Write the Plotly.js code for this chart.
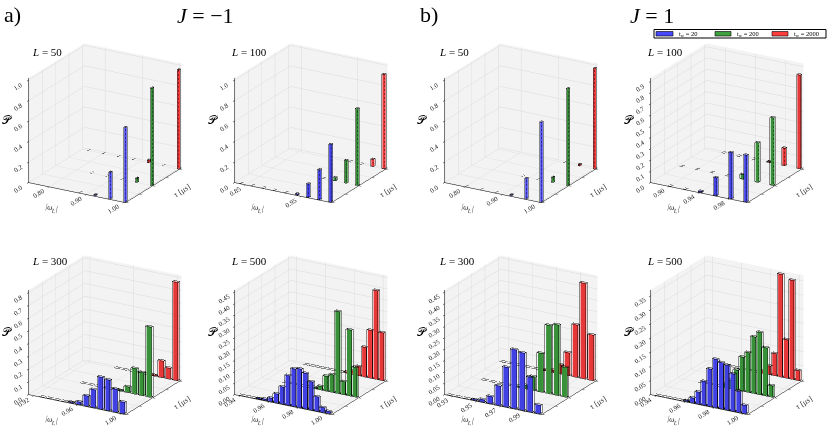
<!DOCTYPE html>
<html><head><meta charset="utf-8">
<script src="https://cdn.plot.ly/plotly-3.0.1.min.js"></script>
<style>html,body{margin:0;padding:0;background:#fff;}#chart{width:830px;height:439px;}</style>
</head><body><div id="chart"></div>
<script>
// ===== data =====
const seriesLabels = ['t<sub>w</sub> = 20', 't<sub>w</sub> = 200', 't<sub>w</sub> = 2000'];
const tauRows = [0, 1, 2];

// J = -1, L = 50
const omega_Jm1_L50 = [0.76, 0.80, 0.84, 0.88, 0.92, 0.96, 1.00];
const P_Jm1_L50_t20   = [0, 0, 0, 0.003, 0.01, 0.26, 0.727];
const P_Jm1_L50_t200  = [0, 0, 0.002, 0.003, 0.004, 0.04, 0.95];
const P_Jm1_L50_t2000 = [0.002, 0.002, 0.002, 0.003, 0.025, 0.003, 0.966];

// J = -1, L = 100
const omega_Jm1_L100 = [0.84, 0.86, 0.88, 0.90, 0.92, 0.94, 0.96, 0.98, 1.00];
const P_Jm1_L100_t20   = [0.002, 0.002, 0.002, 0.003, 0.003, 0.01, 0.13, 0.29, 0.56];
const P_Jm1_L100_t200  = [0, 0, 0, 0, 0, 0.003, 0.03, 0.22, 0.747];
const P_Jm1_L100_t2000 = [0, 0, 0, 0, 0, 0.003, 0.004, 0.07, 0.92];

// J = 1, L = 50
const omega_J1_L50 = [0.76, 0.80, 0.84, 0.88, 0.92, 0.96, 1.00];
const P_J1_L50_t20   = [0, 0.002, 0.003, 0.003, 0.01, 0.20, 0.78];
const P_J1_L50_t200  = [0, 0, 0, 0.002, 0.003, 0.05, 0.945];
const P_J1_L50_t2000 = [0, 0, 0, 0, 0.003, 0.015, 0.98];

// J = 1, L = 100
const omega_J1_L100 = [0.88, 0.90, 0.92, 0.94, 0.96, 0.98, 1.00];
const P_J1_L100_t20   = [0, 0.002, 0.003, 0.01, 0.16, 0.41, 0.415];
const P_J1_L100_t200  = [0.002, 0.002, 0.003, 0.003, 0.04, 0.35, 0.60];
const P_J1_L100_t2000 = [0, 0.002, 0.002, 0.003, 0.005, 0.155, 0.833];

// J = -1, L = 300
const omega_Jm1_L300 = [0.9200, 0.9267, 0.9333, 0.9400, 0.9467, 0.9533, 0.9600, 0.9667, 0.9733, 0.9800, 0.9867, 0.9933, 1.0000];
const P_Jm1_L300_t20   = [0, 0.002, 0.002, 0.002, 0.002, 0.005, 0.02, 0.08, 0.14, 0.25, 0.24, 0.18, 0.09];
const P_Jm1_L300_t200  = [0, 0, 0, 0.002, 0.002, 0.002, 0.002, 0.003, 0.005, 0.045, 0.20, 0.18, 0.55];
const P_Jm1_L300_t2000 = [0, 0, 0, 0, 0.002, 0.002, 0.002, 0.002, 0.003, 0.005, 0.13, 0.085, 0.77];

// J = -1, L = 500
const omega_Jm1_L500 = [0.940, 0.944, 0.948, 0.952, 0.956, 0.960, 0.964, 0.968, 0.972, 0.976, 0.980, 0.984, 0.988, 0.992, 0.996, 1.000];
const P_Jm1_L500_t20   = [0.001, 0.001, 0.001, 0.002, 0.005, 0.015, 0.039, 0.075, 0.13, 0.165, 0.17, 0.156, 0.124, 0.063, 0.021, 0.009];
const P_Jm1_L500_t200  = [0, 0, 0, 0.001, 0.001, 0.001, 0.001, 0.001, 0.005, 0.015, 0.065, 0.077, 0.36, 0.057, 0.29, 0.13];
const P_Jm1_L500_t2000 = [0, 0, 0.001, 0.001, 0.001, 0.001, 0.001, 0.001, 0.001, 0.005, 0.015, 0.04, 0.13, 0.21, 0.39, 0.21];

// J = 1, L = 300
const omega_J1_L300 = [0.9267, 0.9333, 0.9400, 0.9467, 0.9533, 0.9600, 0.9667, 0.9733, 0.9800, 0.9867, 0.9933, 1.0000];
const P_J1_L300_t20   = [0.001, 0.001, 0.001, 0.002, 0.01, 0.031, 0.085, 0.174, 0.259, 0.252, 0.152, 0.037];
const P_J1_L300_t200  = [0, 0.001, 0.001, 0.001, 0.001, 0.005, 0.015, 0.06, 0.17, 0.30, 0.31, 0.13];
const P_J1_L300_t2000 = [0.001, 0.001, 0.001, 0.001, 0.001, 0.002, 0.01, 0.04, 0.10, 0.23, 0.42, 0.20];

// J = 1, L = 500
const omega_J1_L500 = [0.940, 0.944, 0.948, 0.952, 0.956, 0.960, 0.964, 0.968, 0.972, 0.976, 0.980, 0.984, 0.988, 0.992, 0.996, 1.000];
const P_J1_L500_t20   = [0.001, 0.001, 0.001, 0.001, 0.001, 0.003, 0.017, 0.042, 0.084, 0.132, 0.171, 0.163, 0.158, 0.132, 0.074, 0.029];
const P_J1_L500_t200  = [0, 0, 0, 0.001, 0.001, 0.001, 0.001, 0.01, 0.03, 0.07, 0.12, 0.14, 0.20, 0.22, 0.17, 0.04];
const P_J1_L500_t2000 = [0, 0, 0, 0.001, 0.001, 0.001, 0.001, 0.001, 0.001, 0.008, 0.03, 0.078, 0.363, 0.136, 0.35, 0.035];

// ===== styles / layout =====
const colors = ['rgb(72,72,252)', 'rgb(62,160,62)', 'rgb(255,62,62)'];
const serif = 'Liberation Serif, DejaVu Serif, serif';
const colDom = [[2,208],[208,414],[418,624],[624,830]];
const rowDom = [[23,223],[235,435]];
const W = 830, H = 439;

const panels = [
  {L:50,  omega:omega_Jm1_L50,  P:[P_Jm1_L50_t20,P_Jm1_L50_t200,P_Jm1_L50_t2000],   col:0,row:0, xr:[0.745,1.004], t0:0.80, dt:0.1,  zr:[0,1.02], zdt:0.2,  zf:'.1f', dx:0.0045},
  {L:100, omega:omega_Jm1_L100, P:[P_Jm1_L100_t20,P_Jm1_L100_t200,P_Jm1_L100_t2000], col:1,row:0, xr:[0.83,1.004],  t0:0.85, dt:0.1,  zr:[0,1.02], zdt:0.2,  zf:'.1f', dx:0.0045},
  {L:50,  omega:omega_J1_L50,   P:[P_J1_L50_t20,P_J1_L50_t200,P_J1_L50_t2000],       col:2,row:0, xr:[0.745,1.004], t0:0.80, dt:0.1,  zr:[0,1.02], zdt:0.2,  zf:'.1f', dx:0.0045},
  {L:100, omega:omega_J1_L100,  P:[P_J1_L100_t20,P_J1_L100_t200,P_J1_L100_t2000],    col:3,row:0, xr:[0.875,1.004], t0:0.90, dt:0.04, zr:[0,0.93], zdt:0.1,  zf:'.1f', dx:0.0045},
  {L:300, omega:omega_Jm1_L300, P:[P_Jm1_L300_t20,P_Jm1_L300_t200,P_Jm1_L300_t2000], col:0,row:1, xr:[0.915,1.004], t0:0.92, dt:0.04, zr:[0,0.82], zdt:0.1,  zf:'.1f', dx:0.0052},
  {L:500, omega:omega_Jm1_L500, P:[P_Jm1_L500_t20,P_Jm1_L500_t200,P_Jm1_L500_t2000], col:1,row:1, xr:[0.936,1.003], t0:0.94, dt:0.02, zr:[0,0.46], zdt:0.05, zf:'.2f', dx:0.0036},
  {L:300, omega:omega_J1_L300,  P:[P_J1_L300_t20,P_J1_L300_t200,P_J1_L300_t2000],    col:2,row:1, xr:[0.923,1.004], t0:0.93, dt:0.02, zr:[0,0.46], zdt:0.05, zf:'.2f', dx:0.0052},
  {L:500, omega:omega_J1_L500,  P:[P_J1_L500_t20,P_J1_L500_t200,P_J1_L500_t2000],    col:3,row:1, xr:[0.936,1.003], t0:0.94, dt:0.02, zr:[0,0.37], zdt:0.05, zf:'.2f', dx:0.0036}
];

const DY = 0.07;
const elev = 21 * Math.PI/180, azim = -60 * Math.PI/180, R = 1.8, AR = 1.12;

const traces = [];
const layout = {
  width:W, height:H, margin:{l:0,r:0,t:0,b:0}, paper_bgcolor:'#fff', showlegend:false, hovermode:false,
  annotations:[], shapes:[]
};

const tris = [[0,1,2],[0,2,3],[4,5,6],[4,6,7],[0,1,5],[0,5,4],[3,2,6],[3,6,7],[0,3,7],[0,7,4],[1,2,6],[1,6,5]];
const edgePath = [0,1,2,3,0,4,5,6,7,4,-1,1,5,-1,2,6,-1,3,7,-1];
const flatPath = [0,1,-1,3,2,-1];

function axBase() {
  return {
    showbackground:true, backgroundcolor:'rgb(243,243,243)', gridcolor:'rgb(218,218,218)', gridwidth:1,
    showline:true, linecolor:'#000', linewidth:1, ticks:'outside', ticklen:3, tickcolor:'#000',
    tickfont:{family:serif, size:9, color:'#222'}, showspikes:false, zeroline:false
  };
}

panels.forEach((p, idx) => {
  const sid = idx === 0 ? 'scene' : 'scene' + (idx+1);
  const ex=[], ey=[], ez=[];
  const flatLimit = 0.004 * p.zr[1];
  const ix = 0.15 * p.dx, iy = 0.15 * DY, iz = 0.006 * p.zr[1];
  p.P.forEach((vals, s) => {
    const X=[],Y=[],Z=[],I=[],J=[],K=[];
    vals.forEach((h, b) => {
      if (!(h > 0)) return;
      const xc = p.omega[b], x0 = xc - p.dx/2, x1 = xc + p.dx/2;
      const y0 = tauRows[s], y1 = tauRows[s] + DY;
      const vx=[x0,x1,x1,x0,x0,x1,x1,x0], vy=[y0,y0,y1,y1,y0,y0,y1,y1], vz=[0,0,0,0,h,h,h,h];
      const flat = h < flatLimit; // near-zero bars: only a dark dash
      (flat ? flatPath : edgePath).forEach(q => {
        if (q < 0) { ex.push(null); ey.push(null); ez.push(null); }
        else { ex.push(vx[q]); ey.push(vy[q]); ez.push(vz[q]); }
      });
      if (flat) return;
      // filled body slightly inset so the outline is not hidden by its own faces
      const a0 = x0 + ix, a1 = x1 - ix, b0 = y0 + iy, b1 = y1 - iy, ht = Math.max(h - iz, 0);
      const n = X.length;
      X.push(a0,a1,a1,a0,a0,a1,a1,a0); Y.push(b0,b0,b1,b1,b0,b0,b1,b1); Z.push(0,0,0,0,ht,ht,ht,ht);
      tris.forEach(t => { I.push(n+t[0]); J.push(n+t[1]); K.push(n+t[2]); });
    });
    if (X.length) traces.push({type:'mesh3d', scene:sid, x:X, y:Y, z:Z, i:I, j:J, k:K, color:colors[s], opacity:1,
      flatshading:true, lighting:{ambient:0.9, diffuse:0.2, specular:0.02, roughness:1, fresnel:0},
      hoverinfo:'skip', showscale:false, name:seriesLabels[s]});
  });
  traces.push({type:'scatter3d', mode:'lines', scene:sid, x:ex, y:ey, z:ez, connectgaps:false,
    line:{color:'rgba(0,0,0,0.85)', width:1}, hoverinfo:'skip', showlegend:false});

  const cd = colDom[p.col], rd = rowDom[p.row];
  const xa = axBase(), ya = axBase(), za = axBase();
  Object.assign(xa, {range:p.xr, tick0:p.t0, dtick:p.dt, tickformat:'.2f',
      title:{text:'|ω<sub>L</sub>|', font:{family:serif, size:8, color:'#333'}}});
  Object.assign(ya, {range:[-0.02, 2 + DY + 0.01], dtick:0.5, showticklabels:false,
      title:{text:'τ [μs]', font:{family:serif, size:8, color:'#333'}}});
  Object.assign(za, {range:p.zr, dtick:p.zdt, tickformat:p.zf, title:{text:''}});
  layout[sid] = {
    domain:{x:[cd[0]/W, cd[1]/W], y:[1 - rd[1]/H, 1 - rd[0]/H]},
    xaxis:xa, yaxis:ya, zaxis:za,
    aspectmode:'manual', aspectratio:{x:AR, y:AR, z:AR},
    camera:{eye:{x: R*Math.cos(elev)*Math.cos(azim), y: R*Math.cos(elev)*Math.sin(azim), z: R*Math.sin(elev)},
            center:{x:0,y:0,z:0}, up:{x:0,y:0,z:1}, projection:{type:'orthographic'}}
  };

  const lx = [30, 229, 437, 645][p.col], ly = [52, 261][p.row];
  layout.annotations.push({xref:'paper', yref:'paper', x:lx/W, y:1-ly/H, xanchor:'left', yanchor:'middle',
    text:'<i>L</i> = ' + p.L, showarrow:false, font:{family:serif, size:11, color:'#000'}});
  const px = [7, 213, 422, 629][p.col], py = [120, 332][p.row];
  layout.annotations.push({xref:'paper', yref:'paper', x:px/W, y:1-py/H, xanchor:'center', yanchor:'middle',
    text:'𝒫', showarrow:false, font:{family:serif, size:12, color:'#000'}});
});

[['a)', 2, 15], ['b)', 418, 15]].forEach(t => layout.annotations.push({xref:'paper', yref:'paper',
  x:t[1]/W, y:1-t[2]/H, xanchor:'left', yanchor:'middle', text:t[0], showarrow:false, font:{family:serif, size:22, color:'#000'}}));
[['<i>J</i> = −1', 205], ['<i>J</i> = 1', 652]].forEach(t => layout.annotations.push({xref:'paper', yref:'paper',
  x:t[1]/W, y:1-16/H, xanchor:'center', yanchor:'middle', text:t[0], showarrow:false, font:{family:serif, size:22, color:'#000'}}));

layout.shapes.push({type:'rect', xref:'paper', yref:'paper', x0:654/W, x1:826/W, y0:1-38/H, y1:1-29.5/H,
  line:{color:'#000', width:1}, fillcolor:'#fff', layer:'above'});
const legX = [[656,673,677],[715,731,735],[772,788,792]];
legX.forEach((lx, s) => {
  layout.shapes.push({type:'rect', xref:'paper', yref:'paper', x0:lx[0]/W, x1:lx[1]/W, y0:1-36/H, y1:1-31.5/H,
    line:{color:'#000', width:0.6}, fillcolor:colors[s], layer:'above'});
  layout.annotations.push({xref:'paper', yref:'paper', x:lx[2]/W, y:1-33.8/H, xanchor:'left', yanchor:'middle',
    text:seriesLabels[s], showarrow:false, font:{family:serif, size:6.5, color:'#000'}});
});

Plotly.newPlot('chart', traces, layout, {displayModeBar:false, scrollZoom:false});
</script></body></html>
